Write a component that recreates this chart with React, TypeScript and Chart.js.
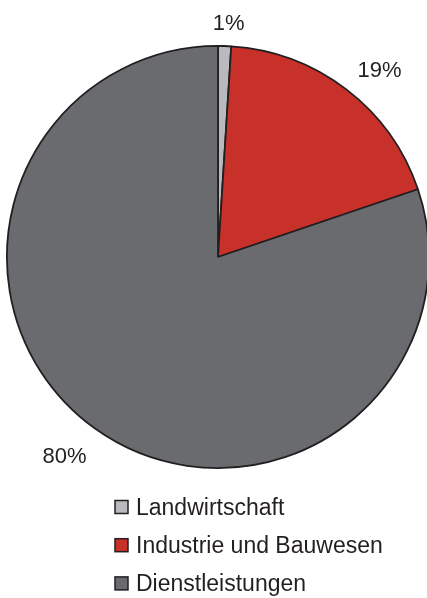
import React, { useEffect, useRef } from "react";
import { Chart, registerables } from "chart.js";

Chart.register(...registerables);

const categories = ["Landwirtschaft", "Industrie und Bauwesen", "Dienstleistungen"];
const values = [1.0, 18.8, 80.2];
const valueLabels = ["1%", "19%", "80%"];
const colors = ["#b9babe", "#c8312a", "#6a6b6f"];

// label anchor positions (centre x, baseline y) in pixels
const labelPos = [
  [228.7, 30],
  [379.5, 76.7],
  [64.5, 463.3],
];

const FONT = '"Liberation Sans", Arial, sans-serif';

const overlayPlugin = {
  id: "overlay",
  afterDraw(chart: any) {
    const ctx = chart.ctx;
    ctx.save();
    ctx.fillStyle = "#231f20";
    ctx.font = `22px ${FONT}`;
    ctx.textAlign = "center";
    ctx.textBaseline = "alphabetic";
    valueLabels.forEach((t, i) => {
      ctx.fillText(t, labelPos[i][0], labelPos[i][1]);
    });
    // legend
    ctx.font = `23px ${FONT}`;
    ctx.textAlign = "left";
    const startY = 515;
    const step = 38.2;
    categories.forEach((c, i) => {
      const base = startY + i * step;
      ctx.fillStyle = colors[i];
      ctx.fillRect(115, base - 14.5, 13, 13);
      ctx.strokeStyle = "#231f20";
      ctx.lineWidth = 1.5;
      ctx.strokeRect(115, base - 14.5, 13, 13);
      ctx.fillStyle = "#231f20";
      ctx.fillText(c, 136, base);
    });
    ctx.restore();
  },
};

export default function App() {
  const ref = useRef<HTMLCanvasElement | null>(null);
  useEffect(() => {
    if (!ref.current) return;
    const chart = new Chart(ref.current, {
      type: "pie",
      data: {
        labels: categories,
        datasets: [
          {
            data: values,
            backgroundColor: colors,
            borderColor: "#231f20",
            borderWidth: 1.8,
          },
        ],
      },
      options: {
        responsive: false,
        animation: false,
        layout: { padding: { left: 6, right: 0, top: 45, bottom: 129 } },
        plugins: {
          legend: { display: false },
          tooltip: { enabled: false },
        },
      },
      plugins: [overlayPlugin],
    });
    return () => chart.destroy();
  }, []);
  return (
    <div style={{ position: "absolute", left: 0, top: 0, width: 427, height: 598, overflow: "hidden", background: "#fff" }}>
      <canvas ref={ref} width={430} height={598} />
    </div>
  );
}
